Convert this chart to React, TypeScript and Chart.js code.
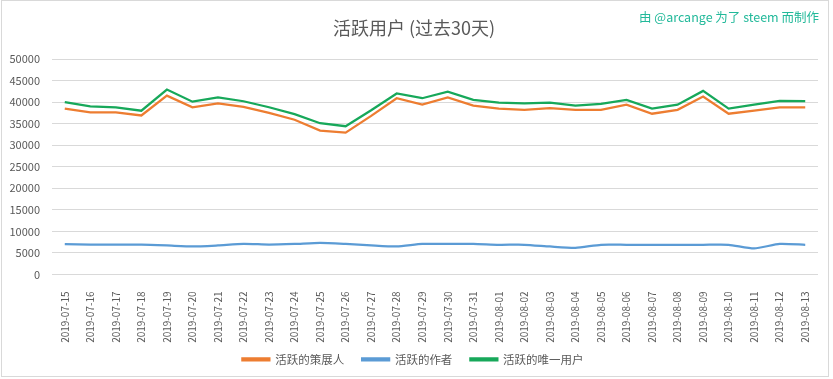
import React, { useEffect, useRef } from "react";
import { Chart, registerables } from "chart.js";

Chart.register(...registerables);

const categories = [
  "2019-07-15", "2019-07-16", "2019-07-17", "2019-07-18", "2019-07-19", "2019-07-20",
  "2019-07-21", "2019-07-22", "2019-07-23", "2019-07-24", "2019-07-25", "2019-07-26",
  "2019-07-27", "2019-07-28", "2019-07-29", "2019-07-30", "2019-07-31", "2019-08-01",
  "2019-08-02", "2019-08-03", "2019-08-04", "2019-08-05", "2019-08-06", "2019-08-07",
  "2019-08-08", "2019-08-09", "2019-08-10", "2019-08-11", "2019-08-12", "2019-08-13",
];

const curators = [
  38500, 37600, 37600, 36900, 41500, 38800, 39700, 38900, 37500, 35900, 33400, 32900,
  36800, 40900, 39400, 41100, 39200, 38500, 38200, 38600, 38200, 38200, 39400, 37300,
  38200, 41300, 37300, 38000, 38800, 38800,
];

const authors = [
  7050, 6950, 6950, 6950, 6750, 6500, 6750, 7100, 6950, 7100, 7350, 7100,
  6750, 6500, 7100, 7100, 7100, 6900, 6900, 6500, 6200, 6900, 6900, 6900,
  6900, 6900, 6900, 6050, 7100, 6900,
];

const uniqueUsers = [
  40000, 39000, 38800, 38000, 42900, 40100, 41100, 40200, 38800, 37200, 35100, 34400,
  38100, 42000, 40900, 42400, 40500, 39900, 39700, 39900, 39200, 39600, 40500, 38500,
  39400, 42600, 38500, 39400, 40300, 40200,
];

const seriesNames = ["活跃的策展人", "活跃的作者", "活跃的唯一用户"];
const yTicks = { min: 0, max: 50000, step: 5000 };
const titleText = "活跃用户 (过去30天)";
const watermarkText = "由 @arcange 为了 steem 而制作";

const FONT = "'Noto Sans CJK SC', 'Noto Sans', sans-serif";

export default function App() {
  const ref = useRef<HTMLCanvasElement | null>(null);

  useEffect(() => {
    const canvas = ref.current;
    if (!canvas) return;

    const decor = {
      id: "decor",
      beforeDraw(chart: any) {
        const xs = chart.scales && chart.scales.x;
        if (xs) xs._computeLabelArea = () => undefined;
        const ctx = chart.ctx;
        ctx.save();
        ctx.fillStyle = "#ffffff";
        ctx.fillRect(0, 0, chart.width, chart.height);
        ctx.strokeStyle = "#d9d9d9";
        ctx.lineWidth = 1;
        ctx.strokeRect(1.5, 0.5, 827, 376);
        ctx.restore();
      },
      afterDraw(chart: any) {
        const ctx = chart.ctx;
        ctx.save();
        ctx.fillStyle = "#595959";
        ctx.font = `18px ${FONT}`;
        ctx.textAlign = "center";
        ctx.textBaseline = "middle";
        ctx.fillText(titleText, 414, 28);
        ctx.fillStyle = "#22b99a";
        ctx.font = `12.5px ${FONT}`;
        ctx.textAlign = "right";
        ctx.fillText(watermarkText, 819, 17);
        ctx.restore();
      },
    };

    const chart = new Chart(canvas, {
      type: "line",
      data: {
        labels: categories,
        datasets: [
          {
            label: seriesNames[0],
            data: curators,
            borderColor: "#ED7D31",
            backgroundColor: "#ED7D31",
            borderWidth: 2.25,
            pointRadius: 0,
            tension: 0,
          },
          {
            label: seriesNames[1],
            data: authors,
            borderColor: "#5B9BD5",
            backgroundColor: "#5B9BD5",
            borderWidth: 2.25,
            pointRadius: 0,
            tension: 0.2,
          },
          {
            label: seriesNames[2],
            data: uniqueUsers,
            borderColor: "#17A85A",
            backgroundColor: "#17A85A",
            borderWidth: 2.25,
            pointRadius: 0,
            tension: 0,
          },
        ],
      },
      options: {
        animation: false,
        responsive: false,
        layout: { padding: { top: 59, left: 8, right: 15, bottom: 4 } },
        plugins: {
          title: { display: false },
          tooltip: { enabled: false },
          legend: {
            position: "bottom",
            labels: {
              boxWidth: 27,
              boxHeight: 2,
              padding: 18,
              color: "#595959",
              font: { family: FONT, size: 11.5 },
            },
          },
        },
        scales: {
          x: {
            offset: true,
            grid: { display: false },
            border: { display: false },
            afterFit: (s: any) => {
              s.height = 61;
            },
            ticks: {
              autoSkip: false,
              maxRotation: 90,
              minRotation: 90,
              padding: 9,
              color: "#595959",
              font: { family: FONT, size: 10 },
            },
          },
          y: {
            min: yTicks.min,
            max: yTicks.max,
            grid: { color: "#d9d9d9", drawTicks: false },
            border: { display: false },
            afterFit: (s: any) => {
              s.width = 44;
            },
            ticks: {
              stepSize: yTicks.step,
              padding: 12,
              color: "#595959",
              font: { family: FONT, size: 11 },
              callback: (v: any) => String(v),
            },
          },
        },
      },
      plugins: [decor],
    });

    return () => chart.destroy();
  }, []);

  return (
    <div style={{ position: "absolute", left: 0, top: 0, width: 833, height: 379 }}>
      <canvas ref={ref} width={833} height={379} style={{ width: 833, height: 379 }} />
    </div>
  );
}
